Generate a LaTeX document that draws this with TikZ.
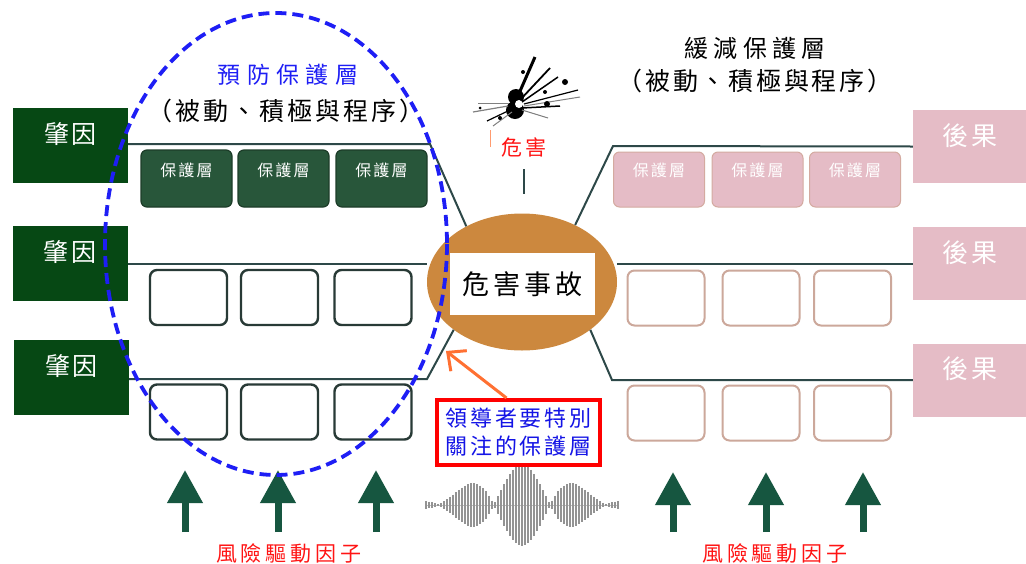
\documentclass[tikz,border=0pt]{standalone}
\usepackage{fontspec}
\setmainfont{Noto Sans CJK TC}
\usetikzlibrary{positioning,arrows.meta,shapes.geometric}

\definecolor{causegreen}{RGB}{6,72,20}
\definecolor{layergreen}{RGB}{40,86,58}
\definecolor{layeredge}{RGB}{28,60,40}
\definecolor{slotdark}{RGB}{40,58,54}
\definecolor{conspink}{RGB}{229,188,198}
\definecolor{pinkedge}{RGB}{212,170,160}
\definecolor{tanline}{RGB}{204,168,155}
\definecolor{eventorange}{RGB}{204,136,62}
\definecolor{barrierline}{RGB}{45,72,72}
\definecolor{drivergreen}{RGB}{22,86,64}
\definecolor{dashblue}{RGB}{30,30,245}
\definecolor{notetext}{RGB}{20,20,230}
\definecolor{alertred}{RGB}{255,20,20}
\definecolor{pointorange}{RGB}{255,112,50}

\newcommand{\zh}[2]{\fontsize{#1}{#1}\selectfont\addfontfeature{LetterSpace=#2}}

\tikzset{
  cause/.style={fill=causegreen, text=white, minimum width=115pt, minimum height=75pt,
    inner sep=0pt, text height=35pt, text depth=40pt, font=\zh{25}{10}},
  effect/.style={fill=conspink, text=white, minimum width=114pt, minimum height=73pt,
    inner sep=0pt, text height=35pt, text depth=38pt, font=\zh{26}{15}},
  layer/.style={rounded corners=6pt, minimum width=91pt, minimum height=57pt, inner sep=0pt,
    text height=26pt, text depth=31pt, text=white, font=\zh{16}{14}},
  layerpre/.style={layer, fill=layergreen, draw=layeredge, line width=1.2pt},
  layerpost/.style={layer, fill=conspink, draw=pinkedge, line width=1pt,
    minimum height=55pt, text height=24pt, text depth=31pt},
  slot/.style={rounded corners=7pt, minimum width=77pt, minimum height=55pt,
    fill=white, line width=2.4pt},
  slotpre/.style={slot, draw=slotdark},
  slotpost/.style={slot, draw=tanline, line width=2pt},
  barrier/.style={draw=barrierline, line width=2pt},
  driver/.style={drivergreen, line width=7pt, -{Triangle[length=33pt,width=34pt]}},
  wave/.style={gray!85, line width=1.7pt},
}

\begin{document}
\begin{tikzpicture}[x=1pt, y=-1pt]
  \fill[white] (0,0) rectangle (1026,563);
  \useasboundingbox (0,0) rectangle (1026,563);

  % causes and consequences
  \node[cause] (c1) at (70.5,145.5) {肇因};
  \node[cause] (c2) at (70,263.5) {肇因};
  \node[cause] (c3) at (71.5,377.5) {肇因};
  \node[effect] (k1) at (970,146.5) {後果};
  \node[effect] (k2) at (970,263.5) {後果};
  \node[effect] (k3) at (970,380) {後果};

  % the event in the middle
  \node[ellipse, fill=eventorange, minimum width=190pt, minimum height=137pt, inner sep=0pt]
    (ev) at (522,282) {};

  % bends of the barrier lines
  \coordinate (lt) at (430,144);
  \coordinate (lb) at (427,379);
  \coordinate (rt) at (613,146);
  \coordinate (rb) at (612,380);

  \draw[barrier] (c1.east |- lt) -- (lt) -- (ev.135);
  \draw[barrier] (c2.east) -- (c2.east -| ev.west);
  \draw[barrier] (c3.east |- lb) -- (lb) -- (ev.215);
  \draw[barrier] (k1.west) -- (rt) -- (ev.47);
  \draw[barrier] (k2.west) -- (k2.west -| ev.east);
  \draw[barrier] (k3.west) -- (rb) -- (ev.-35);

  \node[fill=white, minimum width=145pt, minimum height=62pt, inner sep=0pt, font=\zh{27}{15}]
    (evtext) at (522.5,284) {危害事故};

  % prevention layers
  \foreach \x [count=\i] in {186.5,283.5,381.5}
    \node[layerpre] (pa\i) at (\x,178.5) {保護層};
  \foreach \x [count=\i] in {188.5,279.5,373} {
    \node[slotpre] (pb\i) at (\x,297.5) {};
    \node[slotpre] (pc\i) at (\x,412) {};
  }

  % mitigation layers
  \foreach \x [count=\i] in {659,757.5,855}
    \node[layerpost] (ma\i) at (\x,179.5) {保護層};
  \foreach \x [count=\i] in {666,761,852.5} {
    \node[slotpost] (mb\i) at (\x,298) {};
    \node[slotpost] (mc\i) at (\x,413) {};
  }

  % titles
  \node[text=dashblue, font=\zh{23}{28}] (pretitle) at (288,75) {預防保護層};
  \node[font=\zh{25}{12}] (prekind) at (286,111) {（被動、積極與程序）};
  \node[font=\zh{24}{22}] (posttitle) at (755,48) {緩減保護層};
  \node[font=\zh{25}{11}] (postkind) at (755,81) {（被動、積極與程序）};

  % hazard burst
  \fill (516,97) circle (8);
  \fill (515,110) circle (9);
  \fill[white] (519,104) circle (4);
  \draw[line width=3pt] (517,98) -- (535,57);
  \draw[line width=1.8pt] (520,100) -- (550,68);
  \draw[line width=1.5pt] (522,102) -- (558,77);
  \draw[line width=1.2pt] (524,104) -- (578,90);
  \draw[line width=1pt, gray] (524,106) -- (580,97);
  \draw[line width=1.5pt] (522,108) -- (560,106);
  \draw[line width=1pt, gray] (522,110) -- (548,118);
  \draw[line width=1.2pt, gray] (508,106) -- (473,112);
  \draw[line width=1.2pt] (510,110) -- (487,121);
  \draw[line width=1pt, gray] (512,112) -- (493,126);
  \draw[line width=1pt, gray] (509,103) -- (478,103);
  \fill (523,72) circle (2);
  \fill (565,82) circle (3);
  \fill (547,104) circle (3);
  \fill (500,118) circle (2);
  \fill (480,108) circle (1.5);
  \fill (545,92) circle (2);
  \draw[pointorange!70, line width=1pt] (490,130) -- (490,147);

  \node[text=alertred, font=\zh{21}{12}] (hz) at (524,147) {危害};
  \draw[barrier] ([yshift=-9pt]hz.south) -- ++(0,25);

  % risk drivers
  \foreach \x [count=\i] in {185,278,376} {
    \coordinate (dl\i) at (\x,532);
    \draw[driver] (dl\i) -- ++(0,-62);
  }
  \foreach \x [count=\i] in {673,766,863} {
    \coordinate (dr\i) at (\x,532);
    \draw[driver] (dr\i) -- ++(0,-60);
  }
  \node[text=alertred, font=\zh{21}{19}] (drvl) at (289,553) {風險驅動因子};
  \node[text=alertred, font=\zh{21}{19}] (drvr) at (775,553) {風險驅動因子};

  % wave packet
  \draw[gray!50, line width=0.6pt] (427,505) -- (618,505);
  \foreach \u in {-96,-93,...,96} {
    \pgfmathsetmacro\h{40*exp(-(\u/65)^2)*abs(cos(\u/56*180))+0.8}
    \pgfmathsetmacro\xx{522+\u}
    \draw[wave] (\xx,505-\h) -- (\xx,505+\h);
  }

  % prevention side
  \draw[dashblue, line width=3.8pt, dash pattern=on 11pt off 6pt]
    (276,244) ellipse [x radius=171, y radius=231];

  % note
  \node[draw=red, line width=4pt, fill=white, text=notetext, align=center,
    minimum width=163pt, minimum height=65pt, inner sep=0pt, font=\zh{22}{12}\linespread{1}]
    (note) at (518.5,432.5) {領導者要特別\\[6pt]關注的保護層};
  \coordinate (tip) at (446,351);
  \draw[pointorange, line width=3pt, -{Straight Barb[length=14pt,width=26pt]}]
    ([xshift=-12pt]note.north) -- (tip);
\end{tikzpicture}
\end{document}
